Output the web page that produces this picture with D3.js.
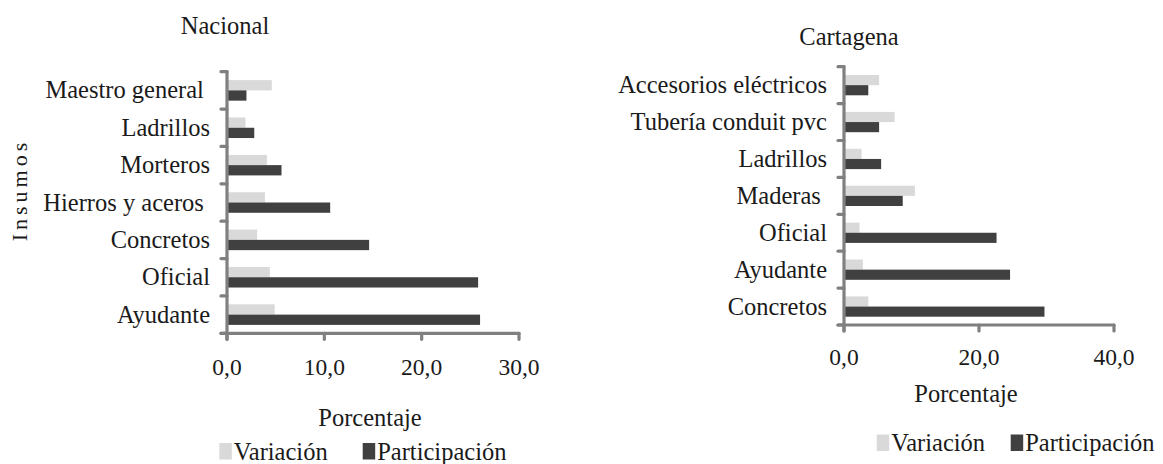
<!DOCTYPE html>
<html>
<head>
<meta charset="utf-8">
<script src="https://cdn.jsdelivr.net/npm/d3@7"></script>
<style>
  html, body { margin: 0; padding: 0; background: #fff; }
  svg { display: block; }
  text { font-family: "Liberation Serif", "Times New Roman", serif; fill: #1a1a1a; white-space: pre; }
</style>
</head>
<body>
<svg id="chart" width="1163" height="464"></svg>
<script>
// ---------- data ----------
const nacionalCategories = ["Maestro general ", "Ladrillos", "Morteros", "Hierros y aceros ", "Concretos", "Oficial", "Ayudante"];
const nacionalVariacion = [4.6, 1.9, 4.1, 3.9, 3.1, 4.4, 4.9];
const nacionalParticipacion = [2.0, 2.8, 5.6, 10.6, 14.6, 25.8, 26.0];
const nacionalTicks = [0, 10, 20, 30];

const cartagenaCategories = ["Accesorios eléctricos", "Tubería conduit pvc", "Ladrillos", "Maderas ", "Oficial", "Ayudante", "Concretos"];
const cartagenaVariacion = [5.2, 7.5, 2.6, 10.5, 2.3, 2.8, 3.6];
const cartagenaParticipacion = [3.6, 5.2, 5.5, 8.7, 22.6, 24.6, 29.7];
const cartagenaTicks = [0, 20, 40];

const seriesNames = ["Variación", "Participación"];
const seriesColors = ["#d9d9d9", "#404040"];

const svg = d3.select("#chart");
const fmt = v => d3.format(".1f")(v).replace(".", ",");
const AXIS = "#808080";

function drawPanel(cfg) {
  const g = svg.append("g");
  const x = d3.scaleLinear().domain([0, cfg.ticks[cfg.ticks.length - 1]]).range([cfg.x0, cfg.x1]);
  const y = d3.scaleBand().domain(cfg.categories).range([cfg.y0, cfg.y1]).padding(0);
  const bh = y.bandwidth() * 0.275;
  const off = (y.bandwidth() - 2 * bh) / 2;

  const rows = cfg.categories.map((c, i) => ({ c, v: cfg.variacion[i], p: cfg.participacion[i] }));

  // bars
  g.selectAll("rect.var").data(rows).join("rect")
    .attr("x", x(0)).attr("y", d => y(d.c) + off)
    .attr("width", d => x(d.v) - x(0)).attr("height", bh)
    .attr("fill", seriesColors[0]);
  g.selectAll("rect.par").data(rows).join("rect")
    .attr("x", x(0)).attr("y", d => y(d.c) + off + bh)
    .attr("width", d => x(d.p) - x(0)).attr("height", bh)
    .attr("fill", seriesColors[1]);

  // y axis
  const bounds = cfg.categories.map(c => y(c)).concat([y.range()[1]]);
  const ax = g.append("g").attr("stroke", AXIS).attr("stroke-width", 3.2).attr("fill", "none");
  ax.append("line").attr("x1", x(0)).attr("x2", x(0)).attr("y1", cfg.y0).attr("y2", cfg.y1 + 6).attr("stroke-linecap", "round");
  bounds.forEach(b => {
    ax.append("line").attr("x1", x(0) - 6).attr("x2", x(0)).attr("y1", b).attr("y2", b).attr("stroke-linecap", "round");
  });
  // x axis
  ax.append("line").attr("x1", x(0) - 6).attr("x2", x.range()[1]).attr("y1", cfg.y1).attr("y2", cfg.y1).attr("stroke-linecap", "round");
  cfg.ticks.forEach(t => {
    ax.append("line").attr("x1", x(t)).attr("x2", x(t)).attr("y1", cfg.y1).attr("y2", cfg.y1 + 6).attr("stroke-linecap", "round");
  });

  // category labels
  g.selectAll("text.cat").data(rows).join("text")
    .attr("x", x(0) - 17).attr("y", d => y(d.c) + y.bandwidth() / 2)
    .attr("dy", "0.33em").attr("text-anchor", "end")
    .style("font-size", "24.5px").text(d => d.c);

  // tick labels
  g.selectAll("text.tick").data(cfg.ticks).join("text")
    .attr("x", d => x(d)).attr("y", cfg.y1 + cfg.tickDy)
    .attr("text-anchor", "middle").style("font-size", "23.5px").text(fmt);

  // axis title
  g.append("text").attr("x", cfg.axTitleX).attr("y", cfg.y1 + cfg.axTitleDy)
    .attr("text-anchor", "middle").style("font-size", "24.5px").text("Porcentaje");

  // chart title
  g.append("text").attr("x", cfg.titleX).attr("y", cfg.titleY)
    .attr("text-anchor", "middle").style("font-size", "24.5px").text(cfg.title);

  // legend
  const lg = g.append("g");
  seriesNames.forEach((s, i) => {
    lg.append("rect").attr("x", cfg.legX[i]).attr("y", cfg.legY - 16.5)
      .attr("width", 12.5).attr("height", 16.5).attr("fill", seriesColors[i]);
    lg.append("text").attr("x", cfg.legX[i] + 14.5).attr("y", cfg.legY)
      .style("font-size", "24.5px").text(s);
  });
  return g;
}

drawPanel({
  categories: nacionalCategories, variacion: nacionalVariacion, participacion: nacionalParticipacion,
  ticks: nacionalTicks, x0: 227, x1: 519, y0: 71.7, y1: 333.3,
  tickDy: 42, axTitleX: 370, axTitleDy: 93, title: "Nacional", titleX: 225, titleY: 34,
  legX: [219.3, 362.7], legY: 459.5
});

drawPanel({
  categories: cartagenaCategories, variacion: cartagenaVariacion, participacion: cartagenaParticipacion,
  ticks: cartagenaTicks, x0: 844, x1: 1114, y0: 66.7, y1: 325,
  tickDy: 40, axTitleX: 966, axTitleDy: 77, title: "Cartagena", titleX: 849, titleY: 45,
  legX: [876.7, 1010.7], legY: 451
});

// y axis title (Nacional)
svg.append("text").attr("transform", "translate(27,190) rotate(-90)")
  .attr("text-anchor", "middle").style("font-size", "22px").style("letter-spacing", "4px")
  .text("Insumos");
</script>
</body>
</html>
